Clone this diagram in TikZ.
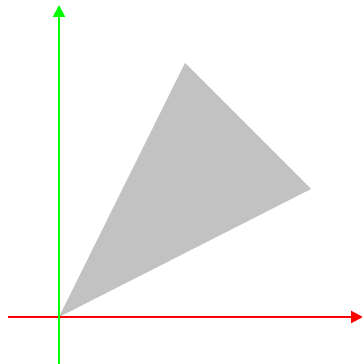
\documentclass[tikz,border=0pt]{standalone}
\usepackage{xcolor}
\usepackage{tikz}
\usetikzlibrary{arrows.meta}

\begin{document}
\begin{tikzpicture}[
    ax/.style={line width=1.4pt, -{Triangle[length=3mm, width=3mm]}},
    tri/.style={fill=black!24, draw=none},
]
    \useasboundingbox (-1.475,-1.175) rectangle (7.55,7.925);
    \coordinate (o) at (0,0);
    \coordinate (p) at (3.15,6.35);
    \coordinate (q) at (6.3,3.2);
    \coordinate (xl) at (-1.275,0);
    \coordinate (xr) at (7.6,0);
    \coordinate (yb) at (0,-1.2);
    \coordinate (yt) at (0,7.8);
    \fill[tri] (o) -- (p) -- (q) -- cycle;
    \draw[ax, red] (xl) -- (xr);
    \draw[ax, green] (yb) -- (yt);
\end{tikzpicture}
\end{document}
